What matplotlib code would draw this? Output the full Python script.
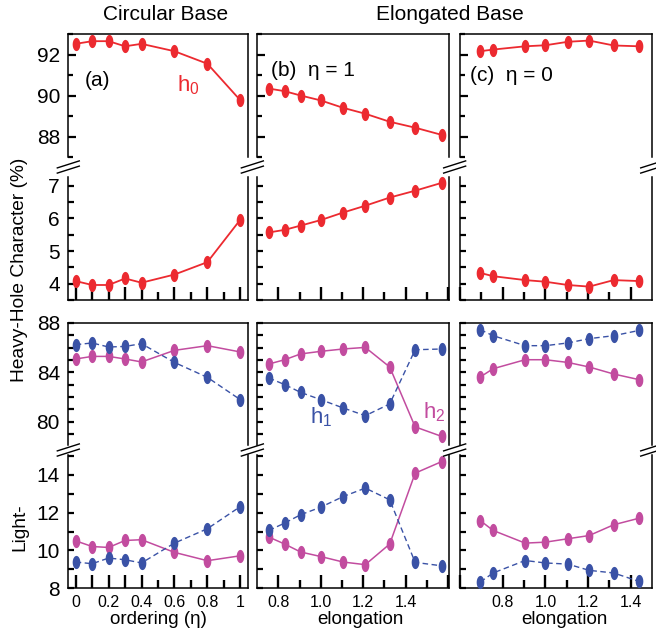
import numpy as np
import matplotlib
matplotlib.use("Agg")
import matplotlib.pyplot as plt
from matplotlib.path import Path
from matplotlib.lines import Line2D
from matplotlib.ticker import FixedLocator, NullFormatter

plt.rcParams['font.family'] = ['Liberation Sans', 'DejaVu Sans']
plt.rcParams['mathtext.fontset'] = 'custom'
plt.rcParams['mathtext.rm'] = 'Liberation Sans'
plt.rcParams['mathtext.it'] = 'Liberation Sans:italic'
plt.rcParams['mathtext.default'] = 'regular'

# ---------------- data ----------------
eta = [0, 0.1, 0.2, 0.3, 0.4, 0.6, 0.8, 1.0]
elong_b = [0.755, 0.83, 0.905, 1.0, 1.105, 1.21, 1.325, 1.445, 1.57]
elong_c = [0.695, 0.755, 0.905, 1.0, 1.105, 1.205, 1.32, 1.44]

h0_hh_a = [92.52, 92.65, 92.65, 92.40, 92.52, 92.16, 91.55, 89.77]
h0_lh_a = [4.08, 3.96, 3.96, 4.16, 4.03, 4.28, 4.66, 5.96]
h0_hh_b = [90.34, 90.21, 90.0, 89.76, 89.40, 89.11, 88.72, 88.43, 88.08]
h0_lh_b = [5.57, 5.65, 5.78, 5.95, 6.18, 6.39, 6.64, 6.85, 7.09]
h0_hh_c = [92.16, 92.24, 92.40, 92.45, 92.62, 92.68, 92.44, 92.40]
h0_lh_c = [4.33, 4.23, 4.11, 4.06, 3.96, 3.91, 4.11, 4.08]

h1_hh_a = [86.24, 86.38, 86.05, 86.10, 86.32, 84.80, 83.59, 81.78]
h2_hh_a = [85.08, 85.29, 85.29, 85.08, 84.84, 85.78, 86.16, 85.65]
h1_lh_a = [9.39, 9.30, 9.60, 9.51, 9.34, 10.39, 11.15, 12.32]
h2_lh_a = [10.51, 10.21, 10.16, 10.53, 10.57, 9.90, 9.46, 9.72]

h1_hh_b = [83.54, 83.00, 82.37, 81.78, 81.11, 80.48, 81.43, 85.83, 85.89]
h2_hh_b = [84.67, 85.02, 85.49, 85.70, 85.89, 86.02, 84.43, 79.57, 78.80]
h1_lh_b = [11.06, 11.45, 11.89, 12.29, 12.85, 13.30, 12.68, 9.37, 9.19]
h2_lh_b = [10.71, 10.34, 9.92, 9.68, 9.39, 9.25, 10.34, 14.09, 14.70]

h1_hh_c = [87.46, 86.97, 86.16, 86.16, 86.38, 86.73, 86.97, 87.40]
h2_hh_c = [83.62, 84.29, 85.02, 85.02, 84.80, 84.43, 83.86, 83.40]
h1_lh_c = [8.33, 8.81, 9.47, 9.34, 9.28, 8.95, 8.81, 8.36]
h2_lh_c = [11.58, 11.06, 10.39, 10.44, 10.62, 10.79, 11.36, 11.71]

col_titles = ["Circular Base", "Elongated Base"]
panel_labels = ["(a)", "(b)  \u03b7 = 1", "(c)  \u03b7 = 0"]

RED = '#ec2a30'
BLUE = '#3a52a6'
PINK = '#c24c9f'

# ---------------- layout ----------------
W, H = 656, 636
fig = plt.figure(figsize=(W / 100, H / 100), dpi=100)

cols_px = [(68.3, 248.0), (256.7, 449.3), (460.0, 651.7)]
rows_px = [(34, 157), (177, 300), (323, 445), (455, 588.3)]

def add_ax(c, r):
    x0, x1 = cols_px[c]
    y0, y1 = rows_px[r]
    return fig.add_axes([x0 / W, 1 - y1 / H, (x1 - x0) / W, (y1 - y0) / H])

theta = np.linspace(0, 2 * np.pi, 40)
ell = Path(np.column_stack([0.58 * np.cos(theta), np.sin(theta)]), closed=True)

xlims = [(-0.045, 1.047), (0.698, 1.606), (0.6, 1.498)]
ylims = [(87, 93), (3.5, 7.27), (78.1, 88), (8, 15.05)]

xmaj = [[0, 0.1, 0.2, 0.3, 0.4, 0.6, 0.8, 1.0],
        [0.8, 1.0, 1.2, 1.4, 1.6],
        [0.6, 0.8, 1.0, 1.2, 1.4]]
xlab = [['0', '', '0.2', '', '0.4', '0.6', '0.8', '1'],
        ['0.8', '1.0', '1.2', '1.4', ''],
        ['', '0.8', '1.0', '1.2', '1.4']]
xmin = [[0.5, 0.7, 0.9], [0.9, 1.1, 1.3, 1.5], [0.7, 0.9, 1.1, 1.3]]

ymaj = [[88, 90, 92], [4, 5, 6, 7], [80, 84, 88], [8, 10, 12, 14]]
ymin = [[87, 89, 91, 93], [3.5, 4.5, 5.5, 6.5],
        list(range(79, 88)), [9, 11, 13, 15]]

xs = [eta, elong_b, elong_c]
data = {
    (0, 0): [(h0_hh_a, RED, '-')], (0, 1): [(h0_lh_a, RED, '-')],
    (1, 0): [(h0_hh_b, RED, '-')], (1, 1): [(h0_lh_b, RED, '-')],
    (2, 0): [(h0_hh_c, RED, '-')], (2, 1): [(h0_lh_c, RED, '-')],
    (0, 2): [(h2_hh_a, PINK, '-'), (h1_hh_a, BLUE, '--')],
    (0, 3): [(h2_lh_a, PINK, '-'), (h1_lh_a, BLUE, '--')],
    (1, 2): [(h2_hh_b, PINK, '-'), (h1_hh_b, BLUE, '--')],
    (1, 3): [(h2_lh_b, PINK, '-'), (h1_lh_b, BLUE, '--')],
    (2, 2): [(h2_hh_c, PINK, '-'), (h1_hh_c, BLUE, '--')],
    (2, 3): [(h2_lh_c, PINK, '-'), (h1_lh_c, BLUE, '--')],
}

axes = {}
for c in range(3):
    for r in range(4):
        ax = add_ax(c, r)
        axes[(c, r)] = ax
        for ys, col, ls in data[(c, r)]:
            if ls == '--':
                lsty = (0, (4, 2.5))
                lw = 1.0
            else:
                lsty = '-'
                lw = 1.3 if col == RED else 1.1
            ax.plot(xs[c], ys, color=col, linestyle=lsty, lw=lw,
                    marker=ell, markersize=9.5, markeredgewidth=0,
                    markerfacecolor=col, clip_on=False, zorder=3)
        ax.set_xlim(*xlims[c])
        ax.set_ylim(*ylims[r])
        for s in ax.spines.values():
            s.set_linewidth(1.1)
        if r in (0, 2):
            ax.spines['bottom'].set_visible(False)
        else:
            ax.spines['top'].set_visible(False)
        # y ticks
        ax.yaxis.set_major_locator(FixedLocator(ymaj[r]))
        ax.yaxis.set_minor_locator(FixedLocator(ymin[r]))
        ax.tick_params(axis='y', which='both', direction='in', left=True,
                       right=False, width=1.6, pad=6, labelsize=15)
        if r == 0:
            ax.tick_params(axis='y', which='major', length=6)
            ax.tick_params(axis='y', which='minor', length=3.8)
        else:
            ax.tick_params(axis='y', which='both', length=4.5)
        if c != 0:
            ax.yaxis.set_major_formatter(NullFormatter())
        # x ticks
        if r in (1, 3):
            ax.xaxis.set_major_locator(FixedLocator(xmaj[c]))
            ax.xaxis.set_minor_locator(FixedLocator(xmin[c]))
            ax.tick_params(axis='x', which='major', direction='in', length=9.5,
                           width=1.7, bottom=True, top=False, pad=5, labelsize=11.5)
            ax.tick_params(axis='x', which='minor', direction='in', length=5.5,
                           width=1.7, bottom=True, top=False)
            if r == 3:
                ax.set_xticklabels(xlab[c])
            else:
                ax.set_xticklabels([])
        else:
            ax.set_xticks([])

# ---------------- text ----------------
fig.text(166 / W, 1 - 15 / H, col_titles[0], ha='center', va='center', fontsize=15)
fig.text(450 / W, 1 - 15 / H, col_titles[1], ha='center', va='center', fontsize=15)

fig.text(20 / W, 1 - 270 / H, "Heavy-Hole Character (%)", rotation=90,
         ha='center', va='center', fontsize=13.8)
fig.text(20 / W, 1 - 527 / H, "Light-", rotation=90,
         ha='center', va='center', fontsize=13.8)

fig.text(158 / W, 1 - 620 / H, "ordering (\u03b7)", ha='center', va='center', fontsize=13.5)
fig.text(360 / W, 1 - 620 / H, "elongation", ha='center', va='center', fontsize=13.5)
fig.text(564 / W, 1 - 620 / H, "elongation", ha='center', va='center', fontsize=13.5)

axes[(0, 0)].text(0.165, 0.618, panel_labels[0], transform=axes[(0, 0)].transAxes,
                  ha='center', va='center', fontsize=15)
axes[(1, 0)].text(0.073, 0.707, panel_labels[1], transform=axes[(1, 0)].transAxes,
                  ha='left', va='center', fontsize=15)
axes[(2, 0)].text(0.052, 0.659, panel_labels[2], transform=axes[(2, 0)].transAxes,
                  ha='left', va='center', fontsize=15)
axes[(0, 0)].text(0.605, 0.58, "h$_0$", transform=axes[(0, 0)].transAxes,
                  ha='left', va='center', fontsize=16, color=RED)
axes[(1, 2)].text(0.277, 0.23, "h$_1$", transform=axes[(1, 2)].transAxes,
                  ha='left', va='center', fontsize=16, color=BLUE)
axes[(1, 2)].text(0.863, 0.27, "h$_2$", transform=axes[(1, 2)].transAxes,
                  ha='left', va='center', fontsize=16, color=PINK)

# ---------------- break marks ----------------
xcs = [cols_px[0][0], (cols_px[0][1] + cols_px[1][0]) / 2,
       (cols_px[1][1] + cols_px[2][0]) / 2, cols_px[2][1]]
ycs = [(rows_px[0][1] + rows_px[1][0]) / 2, (rows_px[2][1] + rows_px[3][0]) / 2]
for yc in ycs:
    for xc in xcs:
        for d in (-2.6, 2.6):
            xa, xb = xc - 11, xc + 11
            ya, yb = yc + d + 3.5, yc + d - 3.5
            fig.add_artist(Line2D([xa / W, xb / W], [1 - ya / H, 1 - yb / H],
                                  transform=fig.transFigure, color='black', lw=1.0))

fig.savefig("out.png", dpi=100)
